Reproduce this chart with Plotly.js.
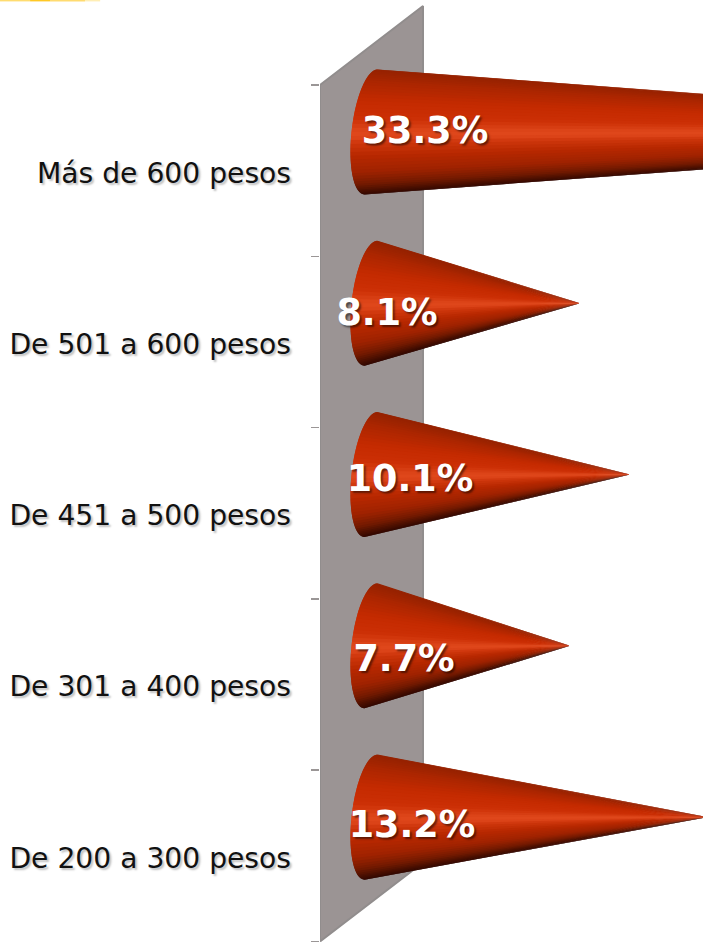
<!DOCTYPE html>
<html>
<head>
<meta charset="utf-8">
<script src="https://cdn.plot.ly/plotly-3.0.1.min.js"></script>
<style>html,body{margin:0;padding:0;background:#fff;overflow:hidden}#chart{width:703px;height:942px}</style>
</head>
<body>
<div id="chart"></div>
<script>
const categories = ["De 200 a 300 pesos","De 301 a 400 pesos","De 451 a 500 pesos","De 501 a 600 pesos","Más de 600 pesos"];
const values = [13.2, 7.7, 10.1, 8.1, 33.3];

// label nudges relative to the cone base (style only)
const labelDx = [1.38, 1.06, 1.30, 0.38, 1.90];
const labelDy = [-0.063, -0.095, -0.042, -0.072, -0.012];

const depthY = 0.226, radiusY = 0.365;
const rimTop = 0.0, rimBottom = -0.52, rimDepth = 0.78;
const stops = [
  [0.00,[150,34,0]],[0.08,[172,38,0]],[0.22,[196,42,0]],[0.36,[204,48,6]],[0.45,[220,68,24]],[0.50,[224,72,28]],
  [0.56,[206,54,12]],[0.66,[184,40,0]],[0.80,[158,34,0]],[0.90,[116,26,0]],[1.00,[48,8,0]]
];
function colorAt(t){
  for(let i=1;i<stops.length;i++){
    if(t<=stops[i][0]){
      const a=stops[i-1],b=stops[i],f=(t-a[0])/(b[0]-a[0]);
      const c=a[1].map((v,k)=>Math.round(v+(b[1][k]-v)*f));
      return `rgb(${c.join(',')})`;
    }
  }
  return 'rgb(48,8,0)';
}
// t runs 0 at the top of the rim to 1 at the bottom
function rim(cy,t){
  const phi=Math.PI*t-Math.PI/2, s=Math.sin(phi), u=(s+1)/2;
  return [rimTop+(rimBottom-rimTop)*u-rimDepth*Math.cos(phi), cy-radiusY*s, u];
}

const traces=[];
const wallDepth=0.461;
traces.push({type:'scatter',mode:'lines',fill:'toself',
  x:[-2.3,1.82,1.82,-2.3,-2.3],
  y:[-0.5,-0.5+wallDepth,4.5+wallDepth,4.5,-0.5],
  fillcolor:'#9b9494',line:{color:'#918d8d',width:2},hoverinfo:'skip',showlegend:false});

const N=48;
values.forEach((v,i)=>{
  const cy=i+depthY;
  // drawn from the bottom strip upward; each strip overlaps the next rim step so no seams show
  for(let k=N-1;k>=0;k--){
    const p0=rim(cy,k/N), p1=rim(cy,(k+1)/N), p2=rim(cy,Math.min(N,k+2)/N);
    const col=colorAt((p0[2]+p1[2])/2);
    traces.push({type:'scatter',mode:'lines',fill:'toself',
      x:[p0[0],p1[0],p2[0],v,p0[0]],y:[p0[1],p1[1],p2[1],cy,p0[1]],
      fillcolor:col,line:{width:0},hoverinfo:'skip',showlegend:false});
  }
});

traces.push({type:'scatter',mode:'text',
  x:values.map((v,i)=>labelDx[i]),
  y:values.map((v,i)=>i+depthY+labelDy[i]),
  text:values.map(v=>v.toFixed(1)+'%'),
  textposition:'middle center',
  textfont:{family:'DejaVu Sans',size:36.5,color:'#ffffff',weight:700,shadow:'2px 2px 2px rgba(0,0,0,0.5)'},
  hoverinfo:'skip',showlegend:false});

const layout={
  width:703,height:942,
  margin:{l:320,r:0,t:0,b:0,pad:0,autoexpand:false},
  paper_bgcolor:'#ffffff',plot_bgcolor:'rgba(0,0,0,0)',
  showlegend:false,
  xaxis:{range:[-2.3,13.02],visible:false,fixedrange:true},
  yaxis:{range:[-0.503,4.996],showgrid:false,zeroline:false,showline:false,fixedrange:true,
    tickmode:'array',tickvals:categories.map((c,i)=>i-0.012),ticktext:categories,ticks:'',
    ticklabelstandoff:28,
    tickfont:{family:'DejaVu Sans',size:28.2,color:'#111111',shadow:'2px 2px 2px rgba(0,0,0,0.25)'},
    minor:{tickmode:'array',tickvals:[-0.5,0.5,1.5,2.5,3.5,4.5],ticks:'outside',ticklen:8,tickwidth:1.5,tickcolor:'#9a9696',showgrid:false}
  },
  shapes:[
    {type:'rect',xref:'paper',yref:'paper',x0:-0.8355,x1:-0.757,y0:0.9985,y1:1,fillcolor:'#ffdc70',line:{width:0}},
    {type:'rect',xref:'paper',yref:'paper',x0:-0.757,x1:-0.705,y0:0.9985,y1:1,fillcolor:'#ffc825',line:{width:0}},
    {type:'rect',xref:'paper',yref:'paper',x0:-0.705,x1:-0.6136,y0:0.9985,y1:1,fillcolor:'#ffdb70',line:{width:0}},
    {type:'rect',xref:'paper',yref:'paper',x0:-0.6136,x1:-0.574,y0:0.9985,y1:1,fillcolor:'#ffeeb5',line:{width:0}}
  ]
};
Plotly.newPlot('chart',traces,layout,{displayModeBar:false,staticPlot:true});
</script>
</body>
</html>
